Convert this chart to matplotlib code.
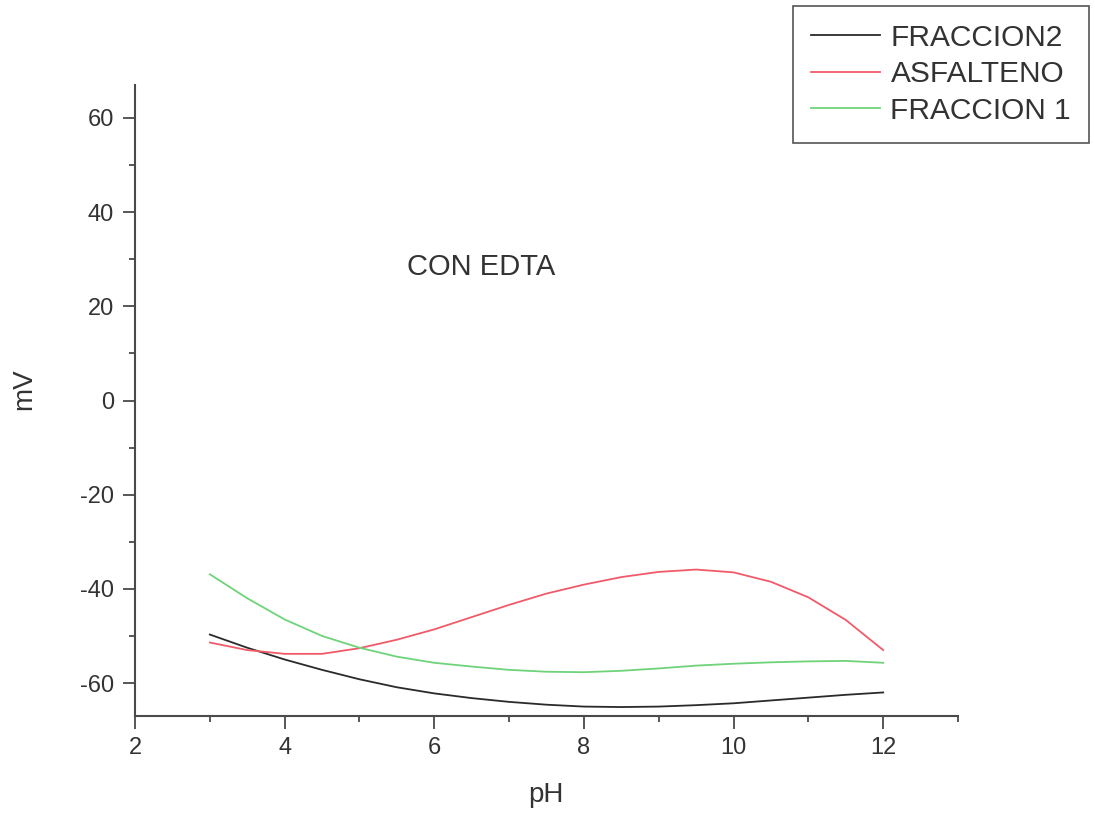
import matplotlib
matplotlib.use("Agg")
import matplotlib.pyplot as plt
from matplotlib.ticker import MultipleLocator

plt.rcParams['font.family'] = ['Liberation Sans', 'DejaVu Sans']
plt.rcParams['axes.unicode_minus'] = False

ph = [3, 3.5, 4, 4.5, 5, 5.5, 6, 6.5, 7, 7.5, 8, 8.5, 9, 9.5, 10, 10.5, 11, 11.5, 12]
fraccion2 = [-49.7, -52.5, -55.0, -57.2, -59.2, -60.9, -62.2, -63.2, -64.0, -64.6,
             -65.0, -65.1, -65.0, -64.7, -64.3, -63.7, -63.1, -62.5, -62.0]
asfalteno = [-51.4, -53.0, -53.8, -53.8, -52.6, -50.8, -48.6, -46.0, -43.4, -41.0,
             -39.1, -37.5, -36.4, -35.9, -36.5, -38.5, -41.8, -46.6, -53.0]
fraccion1 = [-36.9, -42.0, -46.5, -50.0, -52.5, -54.4, -55.7, -56.5, -57.2, -57.6,
             -57.7, -57.4, -56.9, -56.3, -55.9, -55.6, -55.4, -55.3, -55.7]

labels = ["FRACCION2", "ASFALTENO", "FRACCION 1"]
colors = ["#2a2a2a", "#f25a6a", "#6fd37a"]

fig = plt.figure(figsize=(10.95, 8.17), dpi=100)
ax = fig.add_axes([135/1095, 1-716/817, (958-135)/1095, (716-85)/817])

for y, lab, c in zip([fraccion2, asfalteno, fraccion1], labels, colors):
    ax.plot(ph, y, color=c, lw=1.3, label=lab)

ax.set_xlim(2, 13)
ax.set_ylim(-67, 67)
ax.xaxis.set_major_locator(MultipleLocator(2))
ax.xaxis.set_minor_locator(MultipleLocator(1))
ax.yaxis.set_major_locator(MultipleLocator(20))
ax.yaxis.set_minor_locator(MultipleLocator(10))
ax.set_xticks([2, 4, 6, 8, 10, 12])
ax.set_yticks([-60, -40, -20, 0, 20, 40, 60])

spine_c = "#4a4a4a"
for s in ['top', 'right']:
    ax.spines[s].set_visible(False)
for s in ['left', 'bottom']:
    ax.spines[s].set_color(spine_c)
    ax.spines[s].set_linewidth(1.5)
ax.tick_params(which='major', direction='out', length=9, width=1.3, colors=spine_c,
               labelsize=17, labelcolor="#333333", pad=6)
ax.tick_params(which='minor', direction='out', length=4.5, width=1.3, colors=spine_c)

ax.set_xlabel("pH", fontsize=20, color="#333333")
ax.xaxis.set_label_coords(546/1095, 1-795/817, transform=fig.transFigure)
ax.set_ylabel("mV", fontsize=20, color="#333333")
ax.yaxis.set_label_coords(24/1095, 1-389/817, transform=fig.transFigure)
ax.xaxis.label.set_va('center')
ax.yaxis.label.set_va('center')

ax.text(481/1095, 1-267/817, "CON EDTA", fontsize=21, color="#333333",
        ha='center', va='center', transform=fig.transFigure)

leg = fig.legend(loc='upper right', bbox_to_anchor=(1089/1095, 1-6/817),
                 fontsize=21.5, frameon=True, fancybox=False, framealpha=1,
                 edgecolor="#555555", handlelength=2.3, handletextpad=0.35,
                 labelspacing=0.28, borderpad=0.6, borderaxespad=0)
leg.get_frame().set_linewidth(1.2)
for t in leg.get_texts():
    t.set_color("#333333")

fig.savefig("out.png", dpi=100, facecolor='white')
